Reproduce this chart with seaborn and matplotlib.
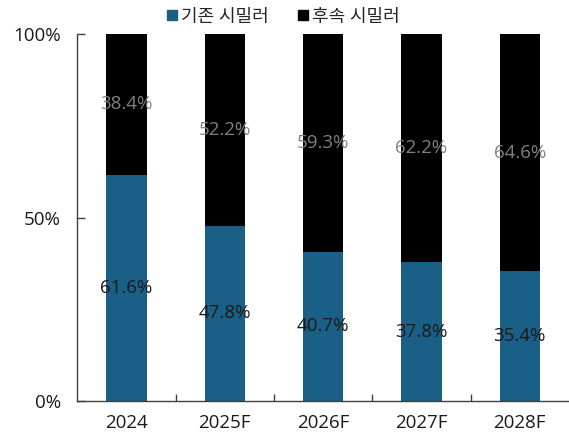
import pandas as pd
import matplotlib.pyplot as plt
import seaborn as sns
from matplotlib.lines import Line2D

years = ['2024', '2025F', '2026F', '2027F', '2028F']
existing = [61.6, 47.8, 40.7, 37.8, 35.4]
followup = [38.4, 52.2, 59.3, 62.2, 64.6]
series_names = ['기존 시밀러', '후속 시밀러']

df = pd.DataFrame({'year': years, 'existing': existing, 'followup': followup})
df['total'] = df['existing'] + df['followup']

sns.set_style('white')
plt.rcParams['font.family'] = ['Open Sans', 'Noto Sans CJK KR', 'DejaVu Sans']

blue = '#1a5f85'
fig = plt.figure(figsize=(5.69, 4.36), dpi=100)
ax = fig.add_axes([0.136, 0.080, 0.864, 0.842])

sns.barplot(data=df, x='year', y='total', color='black', width=0.41,
            saturation=1, ax=ax, edgecolor='none')
sns.barplot(data=df, x='year', y='existing', color=blue, width=0.41,
            saturation=1, ax=ax, edgecolor='none')

for i, row in df.iterrows():
    ax.text(i, row['existing'] / 2, f"{row['existing']:.1f}%", ha='center', va='center',
            fontsize=13.5, color='#1a1a1a')
    ax.text(i, row['existing'] + row['followup'] / 2, f"{row['followup']:.1f}%",
            ha='center', va='center', fontsize=13.5, color='#808080')

ax.set_ylim(0, 100)
ax.set_xlim(-0.5, 4.5)
ax.set_yticks([0, 50, 100])
ax.set_yticklabels(['0%', '50%', '100%'])
ax.set_xlabel('')
ax.set_ylabel('')
ax.set_xticks(range(len(years)))
ax.set_xticks([0.5, 1.5, 2.5, 3.5], minor=True)
ax.tick_params(axis='x', which='major', length=0, labelsize=13.5, pad=9, colors='#1a1a1a')
ax.tick_params(axis='x', which='minor', direction='in', length=5, width=1, color='#404040')
ax.tick_params(axis='y', direction='in', length=6, width=1, labelsize=13.5, pad=12,
               colors='#404040', labelcolor='#1a1a1a')
ax.xaxis.set_tick_params(which='minor', bottom=True)
ax.yaxis.set_tick_params(left=True)
for side in ['top', 'right']:
    ax.spines[side].set_visible(False)
for side in ['left', 'bottom']:
    ax.spines[side].set_color('#404040')
    ax.spines[side].set_linewidth(1)

handles = [Line2D([], [], marker='s', linestyle='none', markersize=7, color=blue),
           Line2D([], [], marker='s', linestyle='none', markersize=7, color='black')]
fig.legend(handles, series_names, loc='center', bbox_to_anchor=(0.495, 0.962), ncol=2,
           frameon=False, fontsize=13, handletextpad=0.0, columnspacing=1.4,
           handlelength=1)

fig.savefig('out.png', dpi=100)
